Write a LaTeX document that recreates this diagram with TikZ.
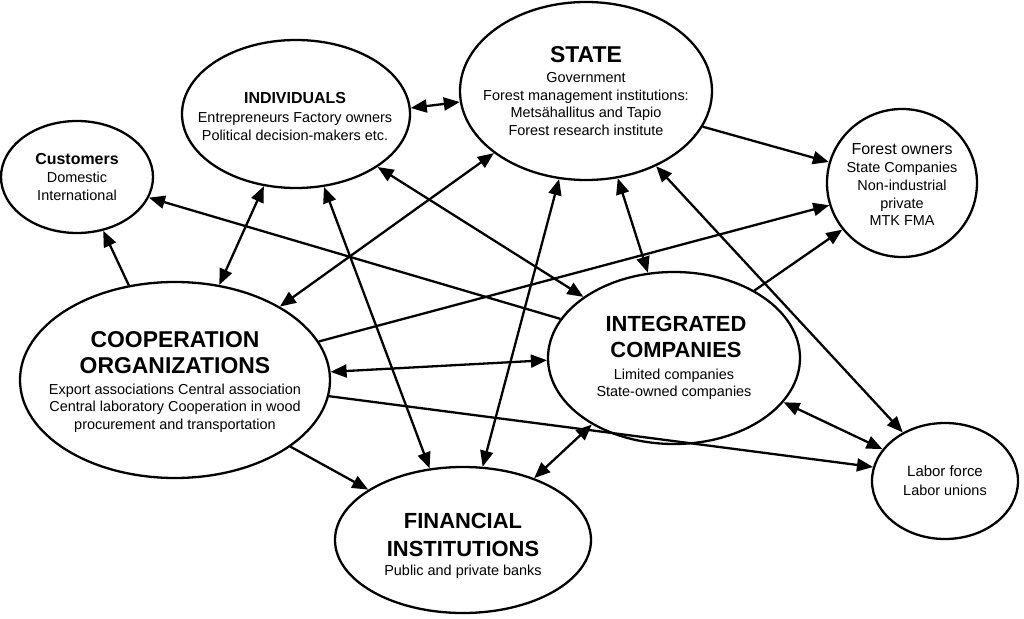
\documentclass[tikz,border=0pt]{standalone}
\usepackage{fontspec}
\setmainfont{Liberation Sans}
\usetikzlibrary{shapes.geometric,arrows.meta}
\tikzset{
  ell/.style={draw, ellipse, line width=2.3bp, inner sep=0pt},
  con/.style={line width=2.3bp},
  tip/.tip={Triangle[length=16bp,width=13bp]},
  a2/.style={con, tip-tip},
  a1/.style={con, -tip},
  ttl/.style={anchor=base, inner sep=0pt, font=\fontsize{22}{26}\selectfont\bfseries},
  sttl/.style={anchor=base, inner sep=0pt, font=\fontsize{16}{19}\selectfont\bfseries},
  body/.style={anchor=base, inner sep=0pt, font=\fontsize{14.5}{17}\selectfont},
  mid/.style={anchor=base, inner sep=0pt, font=\fontsize{16}{19}\selectfont}
}
\begin{document}
\begin{tikzpicture}[x=1bp,y=-1bp]
\useasboundingbox (0,0) rectangle (1024,619);
% ellipses
\node[ell, minimum width=252bp, minimum height=178bp] (state) at (586,91) {};
\node[ell, minimum width=228bp, minimum height=148bp] (ind) at (296,114) {};
\node[ell, minimum width=152bp, minimum height=112bp] (cust) at (77,177) {};
\node[ell, minimum width=150bp, minimum height=148bp] (forest) at (902,183) {};
\node[ell, minimum width=310bp, minimum height=196bp] (coop) at (175,380) {};
\node[ell, minimum width=252bp, minimum height=172bp] (integ) at (674,358) {};
\node[ell, minimum width=256bp, minimum height=146bp] (fin) at (463,540) {};
\node[ell, minimum width=146bp, minimum height=116bp] (labor) at (945,481) {};
% texts
\node[ttl, font=\fontsize{23}{26}\selectfont\bfseries] (stateT) at (586,63) {STATE};
\node[body] (stateA) at (586,83) {Government};
\node[body] (stateB) at (586,100.5) {Forest management institutions:};
\node[body] (stateC) at (586,118) {Metsähallitus and Tapio};
\node[body] (stateD) at (586,135.5) {Forest research institute};
\node[sttl] (indT) at (295,104) {INDIVIDUALS};
\node[body] (indA) at (295,123) {Entrepreneurs Factory owners};
\node[body] (indB) at (295,140.5) {Political decision-makers etc.};
\node[sttl] (custT) at (77,165) {Customers};
\node[body] (custA) at (77,183) {Domestic};
\node[body] (custB) at (77,201) {International};
\node[mid] (forT) at (902,155) {Forest owners};
\node[body] (forA) at (902,173) {State Companies};
\node[body] (forB) at (902,191) {Non-industrial};
\node[body] (forC) at (902,208.5) {private};
\node[body] (forD) at (902,226) {MTK FMA};
\node[ttl, font=\fontsize{23}{26}\selectfont\bfseries] (coopT) at (175,347) {COOPERATION};
\node[ttl, font=\fontsize{23}{26}\selectfont\bfseries] (coopU) at (175,373) {ORGANIZATIONS};
\node[body] (coopA) at (175,394) {Export associations Central association};
\node[body] (coopB) at (175,411.5) {Central laboratory Cooperation in wood};
\node[body] (coopC) at (175,429) {procurement and transportation};
\node[ttl] (intT) at (676,331) {INTEGRATED};
\node[ttl] (intU) at (676,357) {COMPANIES};
\node[body] (intA) at (674,379) {Limited companies};
\node[body] (intB) at (674,396) {State-owned companies};
\node[ttl] (finT) at (463,528) {FINANCIAL};
\node[ttl] (finU) at (463,556) {INSTITUTIONS};
\node[body] (finA) at (463,575) {Public and private banks};
\node[body, font=\fontsize{15}{17}\selectfont] (labT) at (945,476) {Labor force};
\node[body] (labA) at (945,495) {Labor unions};
% connectors
\draw[a2] (ind.3.5) -- (state.185.1);
\draw[a1] (state.-17.2) -- (forest.164.9);
\draw[a1] (coop.116.3) -- (cust.-64.7);
\draw[a1] (integ.161.6) -- (cust.-16.5);
\draw[a2] (ind.-114.1) -- (coop.65.1);
\draw[a2] (ind.-69.1) -- (fin.115.6);
\draw[a2] (ind.-33.7) -- (integ.146.2);
\draw[a2] (state.214.3) -- (coop.35.5);
\draw[a1] (coop.15.0) -- (forest.197.7);
\draw[a2] (state.-70.8) -- (integ.107.6);
\draw[a1] (integ.40.1) -- (forest.218.3);
\draw[a2] (state.-47.0) -- (labor.131.2);
\draw[a2] (coop.3.0) -- (integ.181.8);
\draw[a1] (coop.-6.8) -- (labor.169.8);
\draw[a1] (coop.-30.2) -- (fin.152.5);
\draw[a2] (fin.41.8) -- (integ.219.7);
\draw[a2] (integ.-22.9) -- (labor.153.4);
\draw[a2] (state.253.7) -- (fin.75.8);
\end{tikzpicture}
\end{document}
